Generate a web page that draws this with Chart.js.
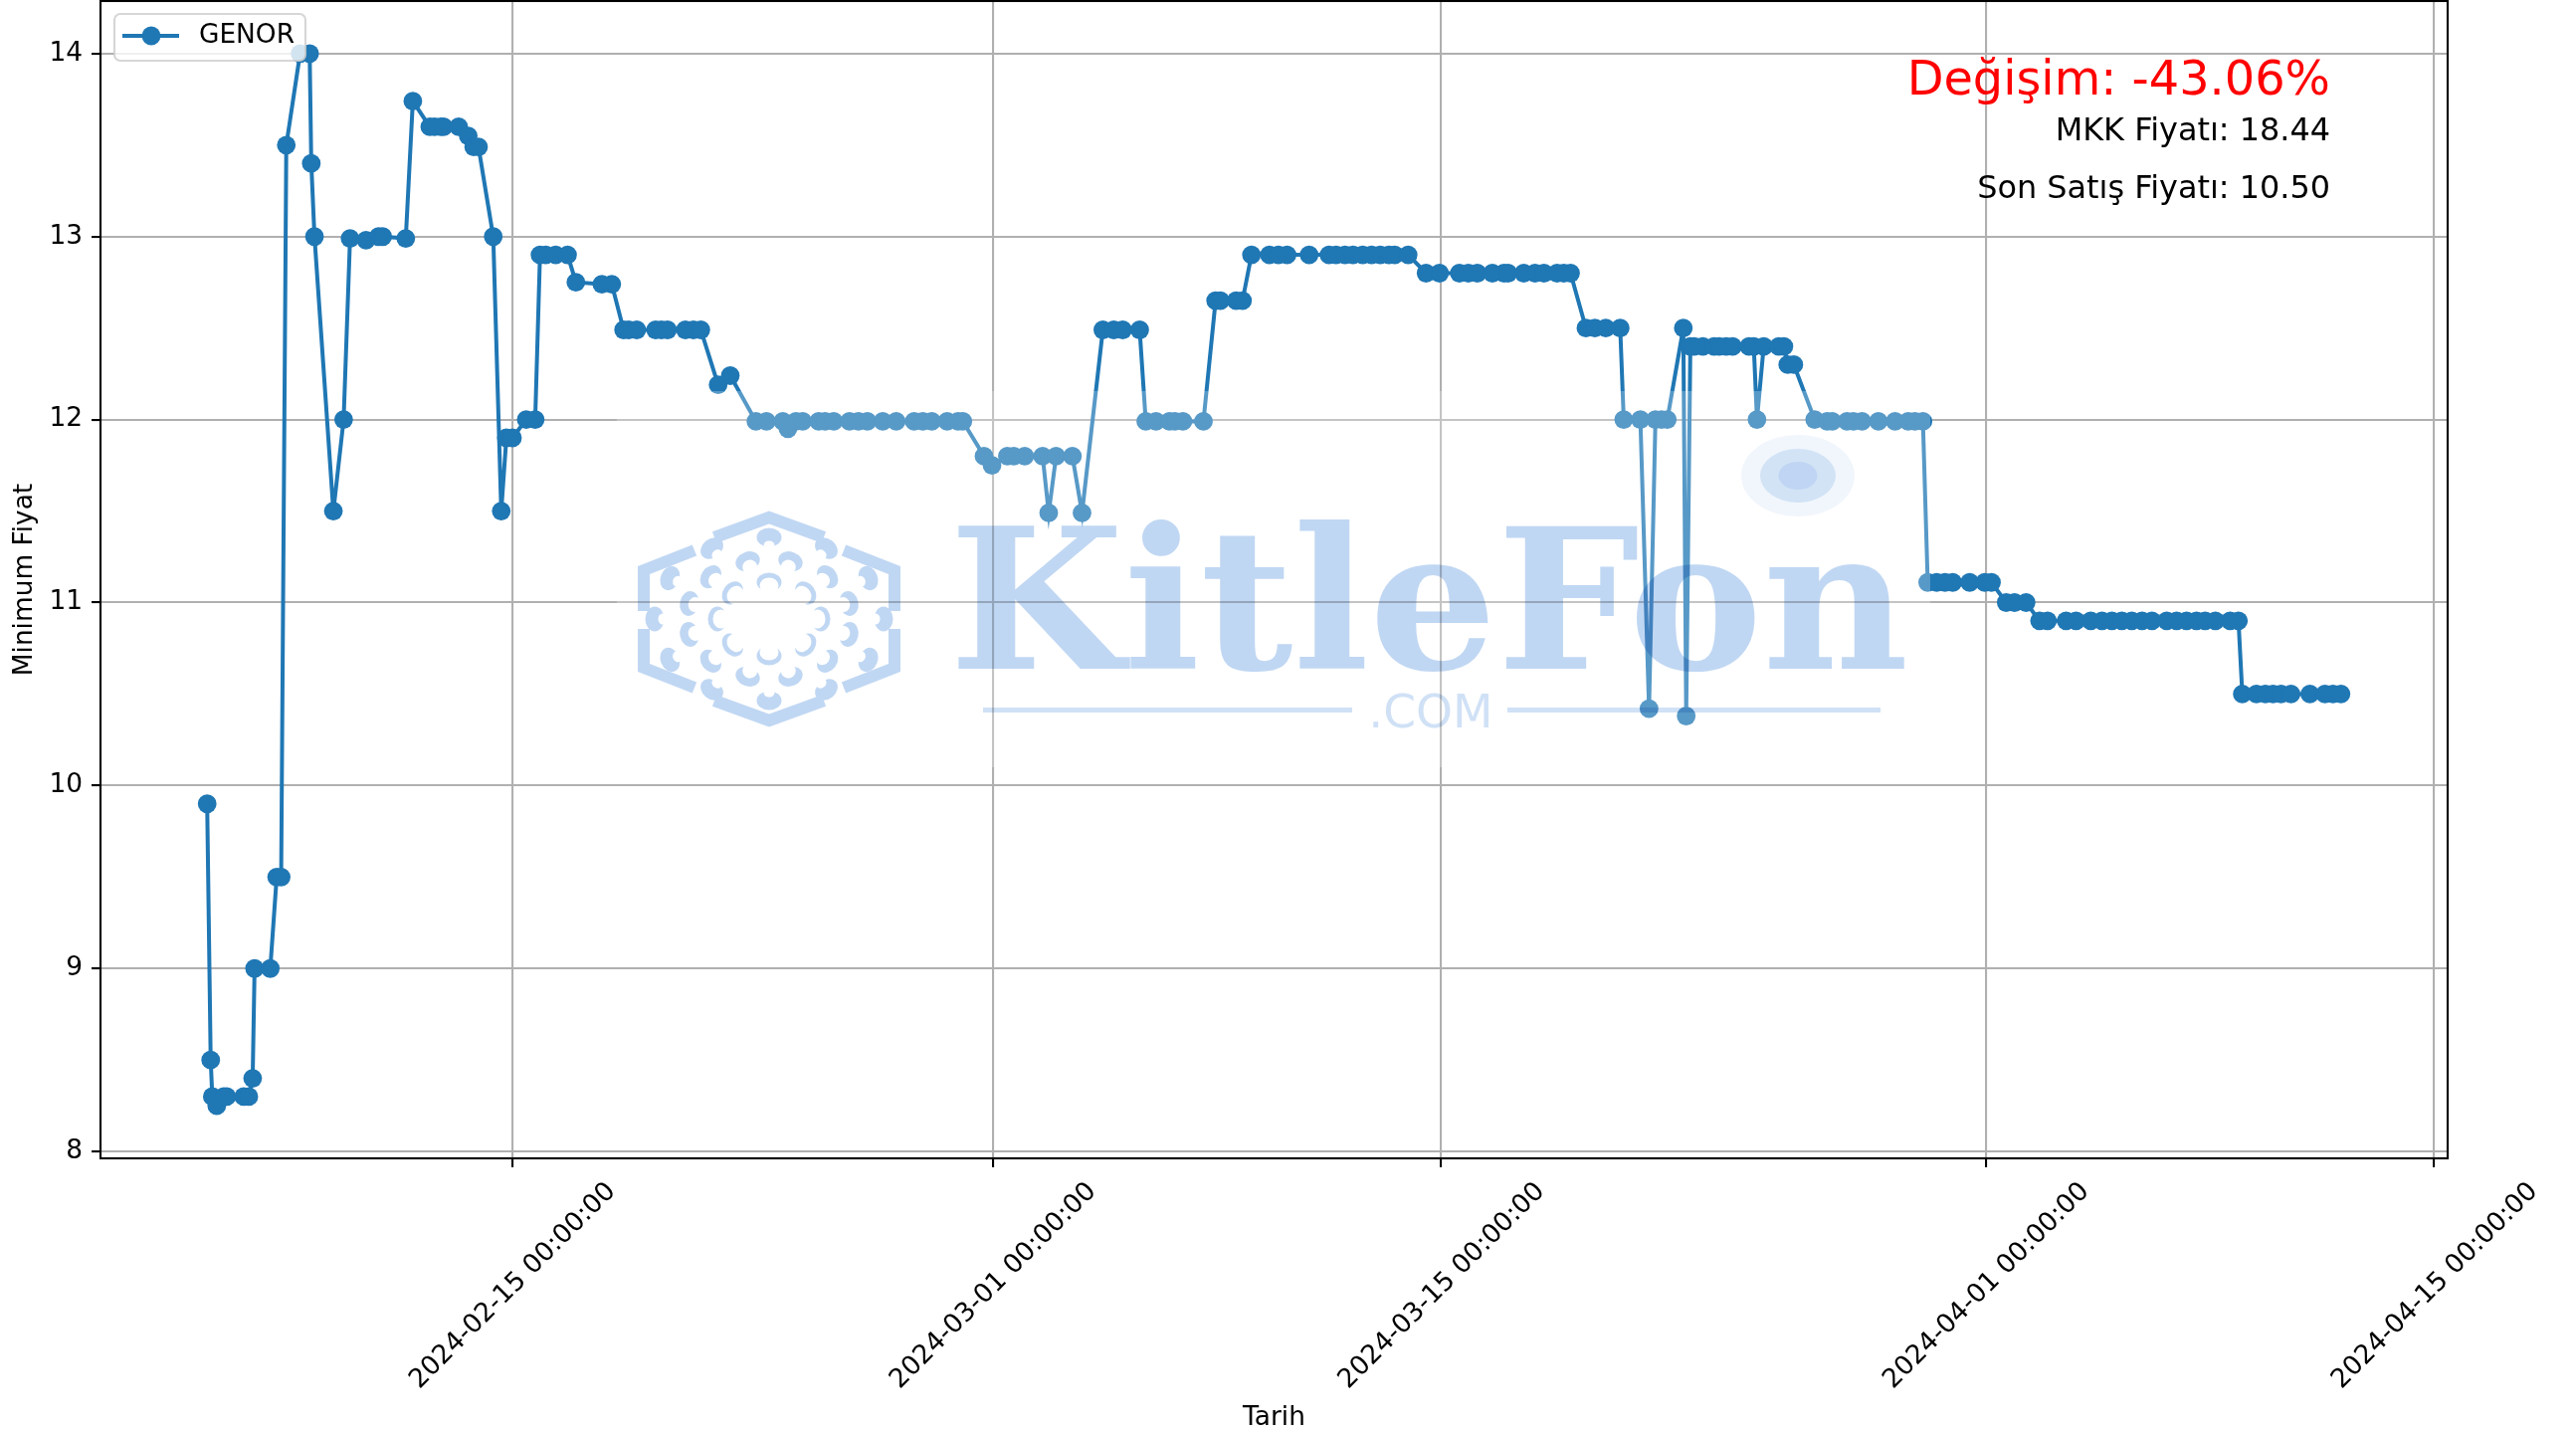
<!DOCTYPE html>
<html lang="tr">
<head>
<meta charset="utf-8">
<title>GENOR</title>
<script src="https://cdn.jsdelivr.net/npm/chart.js@4"></script>
<style>html,body{margin:0;padding:0;background:#fff}canvas{display:block}</style>
</head>
<body>
<canvas id="c" width="2589" height="1441"></canvas>
<script>
// Elapsed days after 2024-02-01 00:00
const sampleDays = [
4.48,4.59,4.64,4.78,5.00,5.09,5.62,5.78,5.90,5.96,6.45,6.65,6.79,6.95,7.38,7.68,7.73,7.83,8.42,8.74,
8.94,9.44,9.83,9.96,10.68,10.90,11.43,11.58,11.77,11.86,12.33,12.63,12.80,12.95,13.41,13.66,13.82,14.01,14.44,14.72,
14.87,15.05,15.36,15.73,15.99,16.80,17.11,17.48,17.64,17.89,18.48,18.66,18.85,19.41,19.66,19.89,20.43,20.81,
21.61,21.94,22.45,22.61,22.86,23.07,23.57,23.77,24.04,24.53,24.81,25.09,25.57,25.99,26.55,26.82,27.10,27.58,27.92,28.07,
28.73,28.98,29.46,29.66,30.00,30.56,30.75,30.98,31.49,31.79,
32.44,32.78,33.06,33.59,33.78,34.10,34.52,34.69,34.94,35.58,35.96,36.11,36.60,36.80,
37.08,37.64,37.92,38.19,38.88,39.50,39.72,40.00,40.25,40.55,40.83,41.10,41.37,41.55,41.97,
42.53,42.95,43.57,43.85,44.13,44.60,44.96,45.09,45.58,45.93,46.21,46.62,46.83,47.04,
47.52,47.80,48.14,48.59,48.70,49.22,49.49,49.69,49.88,50.06,50.56,50.65,
50.78,50.90,51.17,51.52,51.68,51.90,52.10,52.61,52.76,52.86,53.07,53.54,53.70,53.82,54.01,54.66,
55.05,55.21,55.67,55.87,56.14,56.65,57.17,57.58,57.79,58.04,
58.19,58.47,58.73,58.97,59.50,59.97,60.18,60.64,60.90,61.26,
61.68,61.93,62.51,62.82,63.28,63.63,63.94,64.25,64.56,64.88,65.19,65.65,65.96,66.27,66.58,66.85,67.17,67.63,67.89,
68.01,68.45,68.73,68.97,69.22,69.53,70.12,70.59,70.84,71.09
];
const minPrice = [
9.9,8.5,8.3,8.25,8.3,8.3,8.3,8.3,8.4,9.0,9.0,9.5,9.5,13.5,14,14,13.4,13.0,11.5,12.0,
12.99,12.98,13.0,13.0,12.99,13.74,13.6,13.6,13.6,13.6,13.6,13.55,13.49,13.49,13.0,11.5,11.9,11.9,12.0,12.0,
12.9,12.9,12.9,12.9,12.75,12.74,12.74,12.49,12.49,12.49,12.49,12.49,12.49,12.49,12.49,12.49,12.19,12.24,
11.99,11.99,11.99,11.95,11.99,11.99,11.99,11.99,11.99,11.99,11.99,11.99,11.99,11.99,11.99,11.99,11.99,11.99,11.99,11.99,
11.8,11.75,11.8,11.8,11.8,11.8,11.49,11.8,11.8,11.49,
12.49,12.49,12.49,12.49,11.99,11.99,11.99,11.99,11.99,11.99,12.65,12.65,12.65,12.65,
12.9,12.9,12.9,12.9,12.9,12.9,12.9,12.9,12.9,12.9,12.9,12.9,12.9,12.9,12.9,
12.8,12.8,12.8,12.8,12.8,12.8,12.8,12.8,12.8,12.8,12.8,12.8,12.8,12.8,
12.5,12.5,12.5,12.5,12.0,12.0,10.42,12.0,12.0,12.0,12.5,10.38,
12.4,12.4,12.4,12.4,12.4,12.4,12.4,12.4,12.4,12.0,12.4,12.4,12.4,12.3,12.3,12.0,
11.99,11.99,11.99,11.99,11.99,11.99,11.99,11.99,11.99,11.99,
11.11,11.11,11.11,11.11,11.11,11.11,11.11,11.0,11.0,11.0,
10.9,10.9,10.9,10.9,10.9,10.9,10.9,10.9,10.9,10.9,10.9,10.9,10.9,10.9,10.9,10.9,10.9,10.9,10.9,
10.5,10.5,10.5,10.5,10.5,10.5,10.5,10.5,10.5,10.5
];
const xTickLabels = ['2024-02-15 00:00:00','2024-03-01 00:00:00','2024-03-15 00:00:00','2024-04-01 00:00:00','2024-04-15 00:00:00'];
const yTickValues = [8,9,10,11,12,13,14];
const seriesName = 'GENOR';
const xTitle = 'Tarih';
const yTitle = 'Minimum Fiyat';
const notes = ['Değişim: -43.06%','MKK Fiyatı: 18.44','Son Satış Fiyatı: 10.50'];
const watermarkWord = 'KitleFon';
const watermarkSuffix = '.COM';

const DAY = 86400000;
const FEB1 = Date.UTC(2024,1,1);
const tsOf = s => Date.parse(s.replace(' ','T')+'Z');
const xTickValues = xTickLabels.map(tsOf);
const pad2 = n => String(n).padStart(2,'0');
const fmt = v => { const d=new Date(v); return d.getUTCFullYear()+'-'+pad2(d.getUTCMonth()+1)+'-'+pad2(d.getUTCDate())+' '+pad2(d.getUTCHours())+':'+pad2(d.getUTCMinutes())+':'+pad2(d.getUTCSeconds()); };
const BLUE = '#1f77b4';
const FONT = '"DejaVu Sans"';
const TICK_FONT = {family:'DejaVu Sans',size:26.4};

function drawWatermark(ctx){
  ctx.save();
  ctx.fillStyle='rgba(255,255,255,0.25)';
  ctx.fillRect(620,393,1320,378);
  ctx.globalCompositeOperation='multiply';
  const logo='rgb(192,215,243)';
  [[57,41,'rgb(241,246,252)'],[38,27,'rgb(223,236,249)'],[19.5,14,'rgb(232,240,252)']].forEach(e=>{
    ctx.fillStyle=e[2];ctx.beginPath();ctx.ellipse(1807,478,e[0],e[1],0,0,Math.PI*2);ctx.fill();
  });
  ctx.fillStyle=logo;
  ctx.font='bold 196px "DejaVu Serif"';
  ctx.textAlign='left';ctx.textBaseline='alphabetic';
  ctx.save();
  ctx.translate(954,672);ctx.scale(1.03,1);
  ctx.fillText(watermarkWord,0,0);
  ctx.restore();
  ctx.font='47px '+FONT;
  ctx.fillStyle='rgb(208,225,246)';
  ctx.textAlign='center';
  ctx.fillText(watermarkSuffix,1438,731);
  ctx.fillRect(988,711,371,5);
  ctx.fillRect(1515,711,375,5);
  const off=document.createElement('canvas');off.width=300;off.height=260;
  const o=off.getContext('2d');
  o.translate(150,130);
  o.strokeStyle=logo;o.lineWidth=12;o.lineCap='butt';o.lineJoin='miter';
  [[[-55,-82],[0,-102],[55,-82]],[[75,-69],[126,-49],[126,-8]],[[126,10],[126,49],[75,69]],
   [[55,82],[0,102],[-55,82]],[[-75,69],[-126,49],[-126,10]],[[-126,-8],[-126,-49],[-75,-69]]].forEach(p=>{
    o.beginPath();p.forEach((q,i)=>i?o.lineTo(q[0],q[1]):o.moveTo(q[0],q[1]));o.stroke();
  });
  // a, b, count, start angle, half-width, half-height, notch offset, notch half-width, notch half-height
  [[115,82,12,0,12.5,9.5,8,5.5,4.5],[83,60,12,15,12.5,9.5,6,7.5,7],[52,37,8,0,12.5,9.5,3.5,9.5,8]].forEach(r=>{
    for(let k=0;k<r[2];k++){
      const t=(r[3]+k*360/r[2])*Math.PI/180;
      const px=r[0]*Math.sin(t),py=-r[1]*Math.cos(t);
      o.save();
      o.translate(px,py);
      o.rotate(Math.atan2(-py,-px)-Math.PI/2);
      o.fillStyle=logo;
      o.beginPath();o.ellipse(0,0,r[4],r[5],0,0,Math.PI*2);o.fill();
      o.globalCompositeOperation='destination-out';
      o.beginPath();o.ellipse(0,r[6],r[7],r[8],0,0,Math.PI*2);o.fill();
      o.restore();
    }
  });
  ctx.drawImage(off,773-150,622-130);
  ctx.restore();
}

const overlayPlugin = {
  id:'overlay',
  afterDraw(chart){
    const ctx=chart.ctx, a=chart.chartArea;
    drawWatermark(ctx);
    ctx.save();
    ctx.strokeStyle='#000';ctx.lineWidth=2.1;
    ctx.strokeRect(a.left,a.top,a.right-a.left,a.bottom-a.top);
    ctx.fillStyle='rgba(255,255,255,0.8)';
    ctx.strokeStyle='rgba(204,204,204,0.8)';ctx.lineWidth=2.1;
    ctx.beginPath();ctx.roundRect(115,14,192,47,6);ctx.fill();ctx.stroke();
    ctx.strokeStyle=BLUE;ctx.lineWidth=4;
    ctx.beginPath();ctx.moveTo(123,36);ctx.lineTo(180,36);ctx.stroke();
    ctx.fillStyle=BLUE;ctx.beginPath();ctx.arc(152,36,9.4,0,Math.PI*2);ctx.fill();
    ctx.fillStyle='#000';ctx.font='26.4px '+FONT;ctx.textAlign='left';ctx.textBaseline='middle';
    ctx.fillText(chart.data.datasets[0].label,200,36);
    ctx.textAlign='right';
    ctx.fillStyle='#ff0000';ctx.font='47.8px '+FONT;ctx.fillText(notes[0],2342,83);
    ctx.fillStyle='#000';ctx.font='31.9px '+FONT;
    ctx.fillText(notes[1],2342,133);
    ctx.fillText(notes[2],2342,191);
    ctx.restore();
  }
};

new Chart(document.getElementById('c').getContext('2d'),{
  type:'line',
  data:{datasets:[{
    label:seriesName,
    data:sampleDays.map((d,i)=>({x:FEB1+d*DAY,y:minPrice[i]})),
    borderColor:BLUE,backgroundColor:BLUE,borderWidth:4,
    pointRadius:9.4,pointBorderWidth:0,pointBackgroundColor:BLUE,tension:0,fill:false
  }]},
  options:{
    responsive:false,animation:false,devicePixelRatio:1,
    parsing:false,normalized:true,
    layout:{autoPadding:false,padding:{top:1,right:129,left:0,bottom:0}},
    plugins:{legend:{display:false},tooltip:{enabled:false},title:{display:false}},
    scales:{
      x:{
        type:'linear',
        min:FEB1+1.15*DAY,max:FEB1+74.42*DAY,
        afterBuildTicks:s=>{s.ticks=xTickValues.map(v=>({value:v}));},
        afterFit:s=>{s.height=277;s.paddingLeft=0;s.paddingRight=0;s.paddingTop=0;s.paddingBottom=0;},
        grid:{color:'#b0b0b0',lineWidth:2.1,tickColor:'#000',tickWidth:2.1,tickLength:9,drawTicks:true},
        border:{display:false},
        ticks:{autoSkip:false,maxRotation:45,minRotation:45,color:'#000',font:TICK_FONT,padding:9,labelOffset:100,callback:v=>fmt(v)},
        title:{display:true,text:xTitle,color:'#000',font:TICK_FONT,padding:{top:0,bottom:0}}
      },
      y:{
        min:7.9625,max:14.2875,
        afterBuildTicks:s=>{s.ticks=yTickValues.map(v=>({value:v}));},
        afterFit:s=>{s.width=101;s.paddingTop=0;s.paddingBottom=0;s.paddingLeft=0;s.paddingRight=0;},
        grid:{color:'#b0b0b0',lineWidth:2.1,tickColor:'#000',tickWidth:2.1,tickLength:9,drawTicks:true},
        border:{display:false},
        ticks:{color:'#000',font:TICK_FONT,padding:9,callback:v=>String(v)},
        title:{display:true,text:yTitle,color:'#000',font:TICK_FONT,padding:{top:9.5,bottom:0}}
      }
    }
  },
  plugins:[overlayPlugin]
});
</script>
</body>
</html>
